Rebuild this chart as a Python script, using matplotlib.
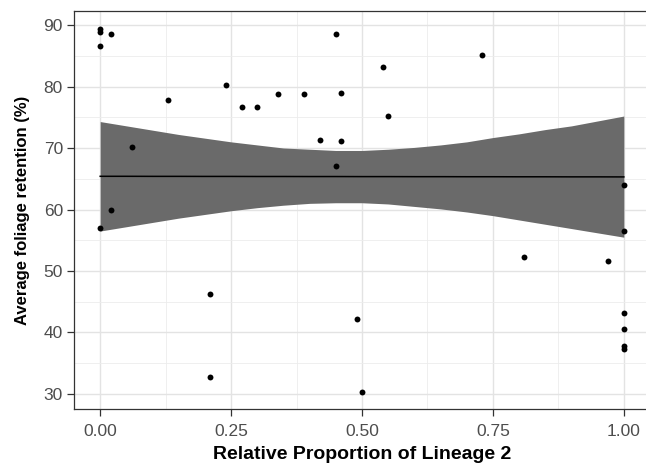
import matplotlib
matplotlib.use('Agg')
import matplotlib.pyplot as plt
from matplotlib.ticker import MultipleLocator

# ==========================================
# DATA
# ==========================================
prop_lineage2 = [0.00, 0.00, 0.00, 0.00, 0.02, 0.02, 0.06, 0.13, 0.21, 0.21,
                 0.24, 0.27, 0.30, 0.34, 0.39, 0.42, 0.45, 0.45, 0.46, 0.46,
                 0.49, 0.50, 0.54, 0.55, 0.73, 0.81, 0.97,
                 1.00, 1.00, 1.00, 1.00, 1.00, 1.00]
foliage_retention = [89.3, 88.8, 86.6, 57.0, 88.6, 60.0, 70.1, 77.8, 46.2, 32.7,
                     80.3, 76.7, 76.6, 78.8, 78.8, 71.3, 88.6, 67.1, 78.9, 71.1,
                     42.2, 30.4, 83.2, 75.2, 85.1, 52.2, 51.6,
                     64.0, 56.5, 43.2, 40.5, 37.8, 37.3]

# fitted line and confidence band
fit_x = [0.00, 0.05, 0.10, 0.15, 0.20, 0.25, 0.30, 0.35, 0.40, 0.45, 0.50,
         0.55, 0.60, 0.65, 0.70, 0.75, 0.80, 0.85, 0.90, 0.95, 1.00]
fit_y = [65.40, 65.40, 65.39, 65.39, 65.38, 65.38, 65.37, 65.37, 65.36, 65.36, 65.35,
         65.35, 65.34, 65.34, 65.33, 65.33, 65.32, 65.32, 65.31, 65.31, 65.30]
band_upper = [74.3, 73.6, 72.9, 72.2, 71.6, 71.0, 70.5, 70.0, 69.8, 69.6, 69.6,
              69.8, 70.1, 70.5, 71.0, 71.7, 72.3, 73.0, 73.6, 74.4, 75.2]
band_lower = [56.5, 57.2, 57.9, 58.6, 59.2, 59.8, 60.3, 60.7, 61.0, 61.1, 61.1,
              60.9, 60.5, 60.1, 59.6, 59.0, 58.3, 57.6, 56.9, 56.2, 55.5]

x_ticks = [0.00, 0.25, 0.50, 0.75, 1.00]
x_tick_labels = ['0.00', '0.25', '0.50', '0.75', '1.00']
y_ticks = [30, 40, 50, 60, 70, 80, 90]

# ==========================================
# PLOT
# ==========================================
plt.rcParams['font.family'] = ['Liberation Sans', 'DejaVu Sans']

fig = plt.figure(figsize=(6.46, 4.71), dpi=100)
ax = fig.add_axes([74 / 646, 1 - 409 / 471, 576 / 646, 398 / 471])

ax.fill_between(fit_x, band_lower, band_upper, color='#6a6a6a', linewidth=0, zorder=2)
ax.plot(fit_x, fit_y, color='black', linewidth=1.1, zorder=3)
ax.scatter(prop_lineage2, foliage_retention, s=18, color='black', linewidths=0, zorder=4)

ax.set_xlim(-0.05, 1.05)
ax.set_ylim(27.56, 92.28)
ax.set_xticks(x_ticks)
ax.set_xticklabels(x_tick_labels)
ax.set_yticks(y_ticks)
ax.xaxis.set_minor_locator(MultipleLocator(0.125))
ax.yaxis.set_minor_locator(MultipleLocator(5))

ax.grid(which='major', color='#e3e3e3', linewidth=1.0, zorder=0)
ax.grid(which='minor', color='#ececec', linewidth=0.6, zorder=0)
ax.set_axisbelow(True)

for side in ['left', 'bottom', 'top', 'right']:
    ax.spines[side].set_color('#333333')
    ax.spines[side].set_linewidth(0.9)

ax.tick_params(which='major', length=5, width=0.9, color='#333333',
               labelsize=12.5, labelcolor='#4d4d4d')
ax.tick_params(axis='y', pad=3)
ax.tick_params(axis='x', pad=6)
ax.tick_params(which='minor', length=0)

ax.set_xlabel('Relative Proportion of Lineage 2', fontsize=14, fontweight='bold', labelpad=5)
ax.set_ylabel('Average foliage retention (%)', fontsize=12, fontweight='bold', labelpad=10)

fig.savefig('out.png', dpi=100)
